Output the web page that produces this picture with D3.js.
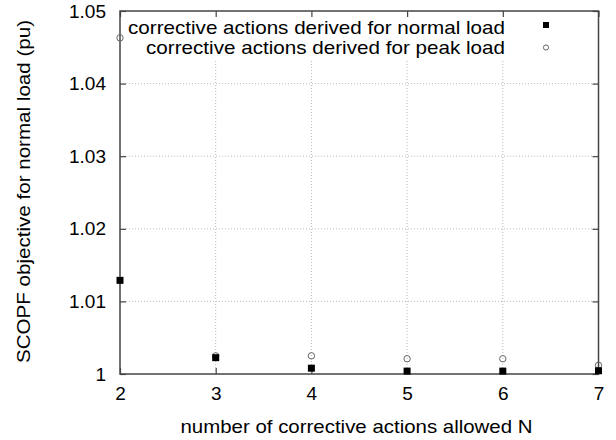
<!DOCTYPE html>
<html><head><meta charset="utf-8">
<script src="https://cdn.jsdelivr.net/npm/d3@7"></script>
<style>body{margin:0;background:#fff}text{font-family:"Liberation Sans",Arial,sans-serif;fill:#000}</style>
</head><body><svg id="c" width="616" height="440"></svg>
<script>
const categories = [2, 3, 4, 5, 6, 7];
const normalLoad = [1.0129, 1.00225, 1.0008, 1.0004, 1.0004, 1.00045];
const peakLoad = [1.0463, 1.0025, 1.0025, 1.0021, 1.0021, 1.0012];
const yTicks = [1, 1.01, 1.02, 1.03, 1.04, 1.05];
const yTickLabels = ["1", "1.01", "1.02", "1.03", "1.04", "1.05"];
const seriesNames = ["corrective actions derived for normal load", "corrective actions derived for peak load"];

const svg = d3.select("#c");
const L = 120, R = 598.5, T = 11, B = 374;
const FS = 19;
const x = d3.scaleLinear().domain([2, 7]).range([L, R]);
const y = d3.scaleLinear().domain([1, 1.05]).range([B, T]);

// grid
const g = svg.append("g");
g.selectAll("line.v").data(categories.slice(1, -1)).join("line")
  .attr("x1", d => x(d)).attr("x2", d => x(d)).attr("y1", B).attr("y2", T)
  .attr("stroke", "#aaa").attr("stroke-width", 0.8).attr("stroke-dasharray", "1,2");
g.selectAll("line.h").data(yTicks.slice(1, -1)).join("line")
  .attr("y1", d => y(d)).attr("y2", d => y(d)).attr("x1", L).attr("x2", R)
  .attr("stroke", "#aaa").attr("stroke-width", 0.8).attr("stroke-dasharray", "1,2");

// legend background (covers grid)
svg.append("rect").attr("x", L + 2).attr("y", T + 2).attr("width", R - L - 4).attr("height", 46).attr("fill", "#fff");

// axes with inward ticks
const axB = d3.axisBottom(x).tickValues(categories).tickSize(-6).tickPadding(13).tickFormat(d3.format("d"));
const axT = d3.axisTop(x).tickValues(categories).tickSize(-6).tickFormat("");
const axL = d3.axisLeft(y).tickValues(yTicks).tickSize(-6).tickPadding(14).tickFormat((d, i) => yTickLabels[i]);
const axR = d3.axisRight(y).tickValues(yTicks).tickSize(-6).tickFormat("");
function style(sel) {
  sel.selectAll(".tick line").attr("stroke", "#444").attr("stroke-width", 1.2);
  sel.selectAll(".tick text").attr("font-size", FS).attr("font-family", "Liberation Sans, Arial, sans-serif").attr("fill", "#000");
}
svg.append("g").attr("transform", `translate(0,${B})`).call(axB).call(style);
svg.append("g").attr("transform", `translate(0,${T})`).call(axT).call(style);
svg.append("g").attr("transform", `translate(${L},0)`).call(axL).call(style);
svg.append("g").attr("transform", `translate(${R},0)`).call(axR).call(style);
svg.selectAll(".domain").remove();
svg.append("rect").attr("x", L).attr("y", T).attr("width", R - L).attr("height", B - T)
  .attr("fill", "none").attr("stroke", "#444").attr("stroke-width", 1.5);

// points
svg.append("g").selectAll("circle").data(categories).join("circle")
  .attr("cx", d => x(d)).attr("cy", (d, i) => y(peakLoad[i])).attr("r", 3.2)
  .attr("fill", "none").attr("stroke", "#666").attr("stroke-width", 1);
svg.append("g").selectAll("rect").data(categories).join("rect")
  .attr("x", d => x(d) - 3.5).attr("y", (d, i) => y(normalLoad[i]) - 3.5).attr("width", 7).attr("height", 7)
  .attr("fill", "#000");

// legend
const leg = svg.append("g");
const legLen = [377, 359];
seriesNames.forEach((n, i) => {
  leg.append("text").attr("x", 505).attr("y", 33.5 + i * 20.5).attr("text-anchor", "end")
    .attr("font-size", FS).attr("textLength", legLen[i]).attr("lengthAdjust", "spacingAndGlyphs").text(n);
});
leg.append("rect").attr("x", 543).attr("y", 22).attr("width", 6).attr("height", 6).attr("fill", "#000");
leg.append("circle").attr("cx", 546).attr("cy", 47.5).attr("r", 2.6).attr("fill", "none").attr("stroke", "#666").attr("stroke-width", 1);

// axis titles
svg.append("text").attr("x", 356.5).attr("y", 433).attr("text-anchor", "middle").attr("font-size", FS)
  .attr("textLength", 352).attr("lengthAdjust", "spacingAndGlyphs")
  .text("number of corrective actions allowed N");
svg.append("text").attr("transform", "translate(30,191.5) rotate(-90)").attr("text-anchor", "middle").attr("font-size", FS)
  .attr("textLength", 343).attr("lengthAdjust", "spacingAndGlyphs")
  .text("SCOPF objective for normal load (pu)");
</script></body></html>
